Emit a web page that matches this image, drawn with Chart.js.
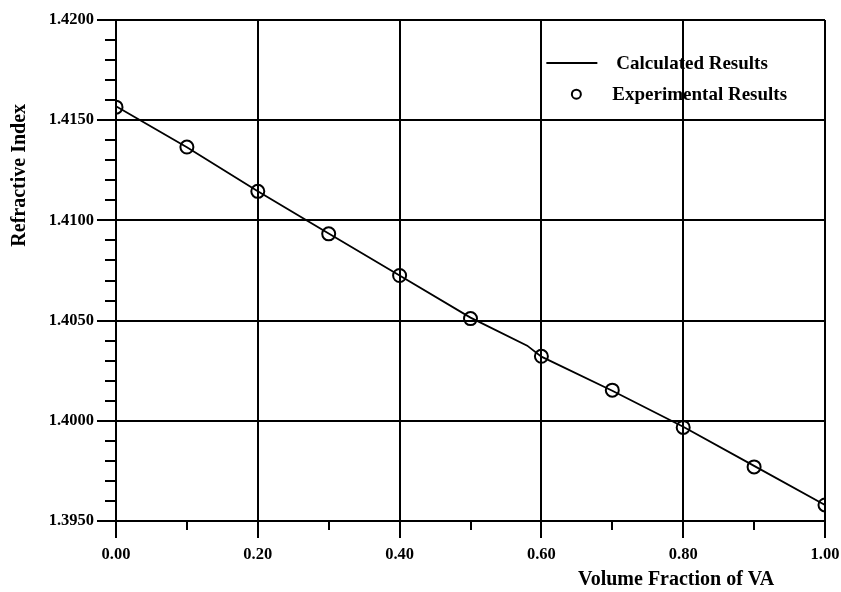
<!DOCTYPE html>
<html>
<head>
<meta charset="utf-8">
<script src="https://cdn.jsdelivr.net/npm/chart.js@4.4.1/dist/chart.umd.min.js"></script>
<style>
  html, body { margin: 0; padding: 0; background: #fff; }
  #wrap { width: 841px; height: 592px; }
</style>
</head>
<body>
<div id="wrap"><canvas id="c" width="841" height="592"></canvas></div>
<script>
// ---- data ----
const expX = [0.0, 0.1, 0.2, 0.3, 0.4, 0.5, 0.6, 0.7, 0.8, 0.9, 1.0];
const expY = [1.41565, 1.41366, 1.41145, 1.40933, 1.40725, 1.40510, 1.40322, 1.40153, 1.39967, 1.39770, 1.39580];
const calcX = [0.0, 0.1, 0.2, 0.3, 0.4, 0.5, 0.58, 0.6, 0.7, 0.8, 0.9, 1.0];
const calcY = [1.41570, 1.41365, 1.41145, 1.40935, 1.40725, 1.40515, 1.40375, 1.40320, 1.40150, 1.39970, 1.39775, 1.39580];
const xMajorTicks = [0.0, 0.2, 0.4, 0.6, 0.8, 1.0];
const xMinorTicks = [0.1, 0.3, 0.5, 0.7, 0.9];
const yMajorTicks = [1.395, 1.400, 1.405, 1.410, 1.415, 1.420];
const yMinorTicks = [1.396, 1.397, 1.398, 1.399, 1.401, 1.402, 1.403, 1.404, 1.406, 1.407, 1.408, 1.409,
                     1.411, 1.412, 1.413, 1.414, 1.416, 1.417, 1.418, 1.419];
const seriesNames = ['Calculated Results', 'Experimental Results'];
const xTitle = 'Volume Fraction of VA';
const yTitle = 'Refractive Index';

const FONT = '"Liberation Serif", "Times New Roman", serif';

const whiteBg = {
  id: 'whiteBg',
  beforeDraw(chart) {
    const ctx = chart.ctx;
    ctx.save();
    ctx.fillStyle = '#fff';
    ctx.fillRect(0, 0, chart.width, chart.height);
    ctx.restore();
  }
};

const extras = {
  id: 'extras',
  afterDraw(chart) {
    const ctx = chart.ctx;
    const xs = chart.scales.x, ys = chart.scales.y;
    const ca = chart.chartArea;
    ctx.save();
    ctx.strokeStyle = '#000';
    ctx.lineWidth = 2;
    // minor ticks on y (pointing left)
    yMinorTicks.forEach(v => {
      const py = Math.round(ys.getPixelForValue(v));
      ctx.beginPath();
      ctx.moveTo(ca.left - 11, py);
      ctx.lineTo(ca.left, py);
      ctx.stroke();
    });
    // minor ticks on x (pointing down)
    xMinorTicks.forEach(v => {
      const px = Math.round(xs.getPixelForValue(v));
      ctx.beginPath();
      ctx.moveTo(px, ca.bottom);
      ctx.lineTo(px, ca.bottom + 9);
      ctx.stroke();
    });
    // axis titles
    ctx.fillStyle = '#000';
    ctx.font = 'bold 20px ' + FONT;
    ctx.textAlign = 'center';
    ctx.textBaseline = 'middle';
    ctx.fillText(xTitle, xs.getPixelForValue(0.79), ca.bottom + 59);
    ctx.save();
    ctx.translate(20, ys.getPixelForValue(1.41225));
    ctx.rotate(-Math.PI / 2);
    ctx.font = 'bold 20px ' + FONT;
    ctx.fillText(yTitle, 0, 0);
    ctx.restore();
    // legend
    const lx = xs.getPixelForValue(0.607);
    const ly1 = ys.getPixelForValue(1.41785);
    const ly2 = ys.getPixelForValue(1.41630);
    ctx.lineWidth = 2;
    ctx.beginPath();
    ctx.moveTo(lx, ly1);
    ctx.lineTo(lx + 51, ly1);
    ctx.stroke();
    ctx.beginPath();
    ctx.arc(lx + 30, ly2, 4.5, 0, Math.PI * 2);
    ctx.stroke();
    ctx.font = 'bold 19px ' + FONT;
    ctx.textAlign = 'left';
    ctx.fillText(seriesNames[0], lx + 70, ly1 + 1);
    ctx.fillText(seriesNames[1], lx + 66, ly2 + 1);
    ctx.restore();
  }
};

new Chart(document.getElementById('c'), {
  type: 'scatter',
  data: {
    datasets: [
      {
        label: seriesNames[0],
        data: calcX.map((x, i) => ({ x: x, y: calcY[i] })),
        showLine: true,
        borderColor: '#000',
        borderWidth: 1.8,
        pointRadius: 0,
        tension: 0,
        fill: false
      },
      {
        label: seriesNames[1],
        data: expX.map((x, i) => ({ x: x, y: expY[i] })),
        showLine: false,
        pointStyle: 'circle',
        pointRadius: 6.5,
        pointBorderWidth: 2,
        pointBorderColor: '#000',
        pointBackgroundColor: 'rgba(0,0,0,0)'
      }
    ]
  },
  options: {
    responsive: false,
    devicePixelRatio: 1,
    animation: false,
    layout: { padding: { left: 0, top: 20, right: 16, bottom: 0 } },
    plugins: {
      legend: { display: false },
      tooltip: { enabled: false }
    },
    scales: {
      x: {
        type: 'linear',
        min: 0, max: 1,
        afterFit(scale) { scale.height = 71; scale.paddingLeft = 0; scale.paddingRight = 0; },
        afterBuildTicks(scale) { scale.ticks = xMajorTicks.map(v => ({ value: v })); },
        ticks: {
          callback: v => Number(v).toFixed(2),
          color: '#000',
          font: { family: FONT, size: 16.5, weight: 'bold' },
          padding: 7,
          maxRotation: 0
        },
        grid: { color: '#000', lineWidth: 2, tickLength: 17, tickColor: '#000' },
        border: { display: true, color: '#000', width: 2 },
        title: { display: false }
      },
      y: {
        type: 'linear',
        min: 1.395, max: 1.42,
        afterFit(scale) { scale.width = 116; scale.paddingTop = 0; scale.paddingBottom = 0; },
        afterBuildTicks(scale) { scale.ticks = yMajorTicks.map(v => ({ value: v })); },
        ticks: {
          callback: v => Number(v).toFixed(4),
          color: '#000',
          font: { family: FONT, size: 16.5, weight: 'bold' },
          padding: 3
        },
        grid: { color: '#000', lineWidth: 2, tickLength: 19, tickColor: '#000' },
        border: { display: true, color: '#000', width: 2 },
        title: { display: false }
      }
    }
  },
  plugins: [whiteBg, extras]
});
</script>
</body>
</html>
